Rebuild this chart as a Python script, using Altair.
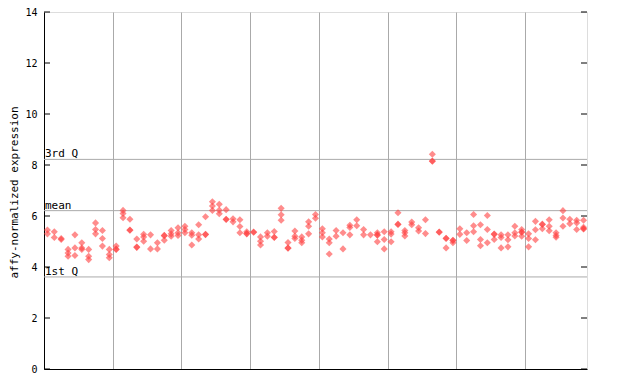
import altair as alt
import pandas as pd

# replicate values for each sample (x index 0..78)
samples_00_09 = [[5.45, 5.30], [5.38, 5.16], [5.12, 5.08], [4.69, 4.55, 4.42],
                 [5.26, 4.75, 4.45], [4.95, 4.75, 4.69], [4.69, 4.42, 4.29],
                 [5.73, 5.47, 5.30], [5.43, 5.12, 4.82], [4.69, 4.49, 4.36]]
samples_10_19 = [[4.82, 4.69, 4.70], [6.22, 6.10, 5.93], [5.87, 5.45, 5.44],
                 [5.10, 4.78, 4.77], [5.28, 5.18, 5.01], [5.26, 4.71],
                 [4.95, 4.71], [5.24, 5.23, 5.05], [5.43, 5.30, 5.21],
                 [5.54, 5.34, 5.24]]
samples_20_29 = [[5.60, 5.47, 5.34], [5.34, 5.25, 4.86], [5.66, 5.26, 5.10],
                 [5.97, 5.28, 5.27], [6.56, 6.39, 6.22], [6.46, 6.23, 6.09],
                 [6.25, 5.87, 5.86], [5.89, 5.77], [5.85, 5.59, 5.34],
                 [5.38, 5.30, 5.31]]
samples_30_39 = [[5.37, 5.36], [5.18, 5.01, 4.86], [5.34, 5.21],
                 [5.39, 5.17, 5.16], [6.30, 6.05, 5.83], [4.96, 4.75, 4.74],
                 [5.41, 5.21, 5.12], [5.18, 5.05, 4.95], [5.77, 5.60, 5.30],
                 [6.06, 5.91]]
samples_40_49 = [[5.50, 5.34, 5.18], [5.10, 4.95, 4.51], [5.43, 5.21],
                 [5.34, 4.71], [5.64, 5.55, 5.26], [5.85, 5.62], [5.47, 5.26],
                 [5.26], [5.34, 5.26, 5.25, 4.99], [5.38, 5.08, 4.71]]
samples_50_59 = [[5.38, 5.29, 4.99], [6.13, 5.68, 5.67], [5.43, 5.34, 5.22],
                 [5.76, 5.66], [5.54, 5.41], [5.85, 5.31], [8.42, 8.16, 8.15],
                 [5.37, 5.36], [5.13, 5.12, 4.75], [5.05, 5.04, 4.95]]
samples_60_69 = [[5.50, 5.28], [5.34, 5.04], [6.06, 5.62, 5.38],
                 [5.66, 5.08, 4.83], [6.02, 5.47, 4.95], [5.29, 5.28, 5.08],
                 [5.26, 5.16, 4.75], [5.26, 5.07, 4.79], [5.60, 5.34, 5.22],
                 [5.47, 5.37, 5.36, 5.21]]
samples_70_78 = [[5.30, 5.12, 4.79], [5.79, 5.46, 5.07], [5.68, 5.67, 5.50],
                 [5.85, 5.60, 5.42], [5.34, 5.24, 5.17], [6.21, 5.92, 5.60],
                 [5.87, 5.70], [5.83, 5.73, 5.47], [5.83, 5.56, 5.50, 5.49]]

all_samples = (samples_00_09 + samples_10_19 + samples_20_29 + samples_30_39 +
               samples_40_49 + samples_50_59 + samples_60_69 + samples_70_78)

quartile_names = ["3rd Q", "mean", "1st Q"]
quartile_values = [8.22, 6.21, 3.61]

y_ticks = [0, 2, 4, 6, 8, 10, 12, 14]
x_grid = [9.5, 19.5, 29.5, 39.5, 49.5, 59.5, 69.5]

rows = [{"sample": i, "value": v} for i, vals in enumerate(all_samples) for v in vals]
df = pd.DataFrame(rows)
qdf = pd.DataFrame({"name": quartile_names, "value": quartile_values})
tdf = pd.DataFrame({"tick": y_ticks})

W, H = 543, 357
MONO = "DejaVu Sans Mono"

xscale = alt.Scale(domain=[-0.5, 78.5], nice=False, zero=False)
yscale = alt.Scale(domain=[0, 14], nice=False, zero=True)

points = alt.Chart(df).mark_point(
    shape="diamond", filled=True, size=50, color="#ff4040", opacity=0.6, strokeWidth=0
).encode(
    x=alt.X("sample:Q", scale=xscale,
            axis=alt.Axis(values=x_grid, grid=True, gridColor="#aaaaaa", gridWidth=1,
                          labels=False, ticks=False, title=None,
                          domainColor="black")),
    y=alt.Y("value:Q", scale=yscale,
            axis=alt.Axis(values=y_ticks, ticks=False, labelPadding=7, grid=False,
                          labelFont=MONO, labelFontSize=10, labelColor="black",
                          domainColor="black",
                          title="affy-normalized expression",
                          titleFont=MONO, titleFontSize=11, titleFontWeight="normal",
                          titleColor="black", titleX=-30, titleY=180,
                          titleAngle=270, titleAlign="center", titleBaseline="middle")),
)

qlines = alt.Chart(qdf).mark_rule(color="#aaaaaa", strokeWidth=1).encode(
    y=alt.Y("value:Q", scale=yscale)
)

qtext = alt.Chart(qdf).mark_text(
    align="left", baseline="bottom", font=MONO, fontSize=11, color="black", dx=1, dy=0
).encode(
    x=alt.value(0),
    y=alt.Y("value:Q", scale=yscale),
    text="name:N",
)

left_ticks = alt.Chart(tdf).mark_rule(color="black").encode(
    x=alt.value(0), x2=alt.value(6), y=alt.Y("tick:Q", scale=yscale)
)
right_ticks = alt.Chart(tdf).mark_rule(color="black").encode(
    x=alt.value(W - 6), x2=alt.value(W), y=alt.Y("tick:Q", scale=yscale)
)

chart = alt.layer(qlines, qtext, left_ticks, right_ticks, points).properties(
    width=W, height=H,
    autosize=alt.AutoSizeParams(type="none"),
    padding={"left": 36, "top": 4, "right": 45, "bottom": 7},
).configure_view(stroke="black", strokeWidth=1).configure(background="white")

chart.save("out.html", embed_options={"renderer": "svg", "actions": False})
